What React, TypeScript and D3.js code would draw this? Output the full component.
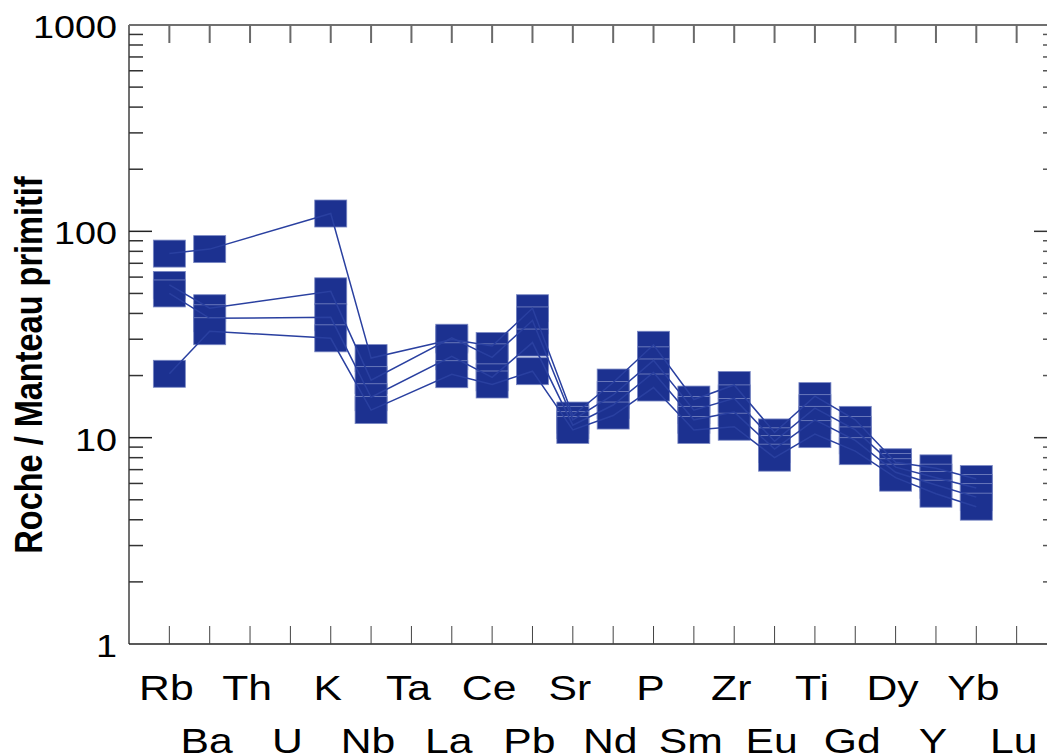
import * as d3 from "d3";
import React from "react";

const elements = ["Rb", "Ba", "Th", "U", "K", "Nb", "Ta", "La", "Ce", "Pb", "Sr", "Nd", "P", "Sm", "Zr", "Eu", "Ti", "Gd", "Dy", "Y", "Yb", "Lu"];

// normalised values, null = not analysed
const sample1 = [78, 82, null, null, 122, 24.3, null, 29.9, 27.8, 42.4, 12.8, 18.5, 28.2, 15.3, 18.0, 10.6, 15.9, 12.2, 7.6, 7.1, 6.3, null];
const sample2 = [55, 42.4, null, null, 51.2, 19.0, null, 30.5, 24.5, 37.0, 12.2, 16.1, 23.7, 13.6, 15.5, 9.6, 13.9, 10.9, 7.2, 6.4, 5.7, null];
const sample3 = [50, 37.9, null, null, 38.3, 15.7, null, 24.8, 19.6, 28.9, 11.5, 14.4, 20.7, 12.2, 13.3, 8.8, 12.2, 9.7, 6.8, 5.9, 5.15, null];
const sample4 = [20.4, 32.8, null, null, 30.3, 13.6, null, 20.3, 18.1, 21.0, 10.9, 12.8, 17.5, 10.9, 11.3, 8.0, 10.4, 8.6, 6.4, 5.35, 4.63, null];

const samples = [sample1, sample2, sample3, sample4];
const yTickLabels = [1, 10, 100, 1000];

const W = 1047;
const H = 755;
const left = 129;
const right = 1057;
const top = 25;
const bottom = 644;
const navy = "#1c3190";
const sx = 1.22; // the original text is stretched horizontally

export default function App() {
  const x = d3.scalePoint().domain(elements).range([left, right]).padding(1);
  const y = d3.scaleLog().domain([1, 1000]).range([bottom, top]);

  const minor: number[] = [];
  [1, 10, 100].forEach((d) => {
    for (let k = 2; k <= 9; k++) minor.push(d * k);
  });

  const line = d3
    .line<{ e: string; v: number }>()
    .x((d) => x(d.e) as number)
    .y((d) => y(d.v));

  const pts = samples.map((s) =>
    s.map((v, i) => ({ e: elements[i], v: v as number })).filter((d) => d.v != null)
  );

  return (
    <svg width={W} height={H} style={{ position: "absolute", left: 0, top: 0, background: "#fff" }}>
      {/* frame */}
      <line x1={left} x2={W} y1={top} y2={top} stroke="#707070" strokeWidth={2} />
      <line x1={left} x2={left} y1={top} y2={bottom} stroke="#707070" strokeWidth={2} />
      <line x1={left} x2={W} y1={bottom} y2={bottom} stroke="#222" strokeWidth={1.5} />
      <line x1={right} x2={right} y1={top} y2={bottom} stroke="#707070" strokeWidth={2} />

      {/* x ticks */}
      {elements.map((e) => (
        <g key={"xt" + e}>
          <line x1={x(e)} x2={x(e)} y1={top} y2={top + 18} stroke="#6a6a6a" strokeWidth={2} />
          <line x1={x(e)} x2={x(e)} y1={bottom} y2={bottom - 18} stroke="#444" strokeWidth={1} />
        </g>
      ))}

      {/* y ticks */}
      {minor.map((v) => (
        <g key={"ym" + v}>
          <line x1={left} x2={left + 14} y1={y(v)} y2={y(v)} stroke="#333" strokeWidth={1.5} />
          <line x1={right} x2={right - 14} y1={y(v)} y2={y(v)} stroke="#555" strokeWidth={1.5} />
        </g>
      ))}
      {[10, 100].map((v) => (
        <g key={"yM" + v}>
          <line x1={left} x2={left + 23} y1={y(v)} y2={y(v)} stroke="#222" strokeWidth={1.5} />
          <line x1={right} x2={right - 23} y1={y(v)} y2={y(v)} stroke="#333" strokeWidth={1.5} />
        </g>
      ))}

      {/* y labels */}
      {yTickLabels.map((v) => (
        <g key={"yl" + v} transform={`translate(117,${y(v) + 13}) scale(${sx},1)`}>
          <text textAnchor="end" fontFamily="Liberation Sans, Arial, sans-serif" fontSize={31} fill="#000">
            {v}
          </text>
        </g>
      ))}

      {/* x labels, two staggered rows */}
      {elements.map((e, i) => (
        <g key={"xl" + e} transform={`translate(${(x(e) as number) - 3},${i % 2 === 0 ? 700 : 753}) scale(${sx},1)`}>
          <text textAnchor="middle" fontFamily="Liberation Sans, Arial, sans-serif" fontSize={35} fill="#000">
            {e}
          </text>
        </g>
      ))}

      {/* axis title */}
      <g transform="translate(42,365) rotate(-90) scale(1,1.19)">
        <text textAnchor="middle" fontFamily="Liberation Sans, Arial, sans-serif" fontWeight="bold" fontSize={32.5} fill="#000">
          Roche / Manteau primitif
        </text>
      </g>

      {/* markers */}
      {pts.map((p, si) =>
        p.map((d) => (
          <rect
            key={"m" + si + d.e}
            x={(x(d.e) as number) - 16}
            y={y(d.v) - 13.5}
            width={32}
            height={27}
            fill={navy}
            stroke="#7a88c4"
            strokeWidth={0.8}
          />
        ))
      )}

      {/* lines */}
      {pts.map((p, si) => (
        <path key={"l" + si} d={line(p) as string} fill="none" stroke="#2a40a0" strokeWidth={1.5} />
      ))}
    </svg>
  );
}
